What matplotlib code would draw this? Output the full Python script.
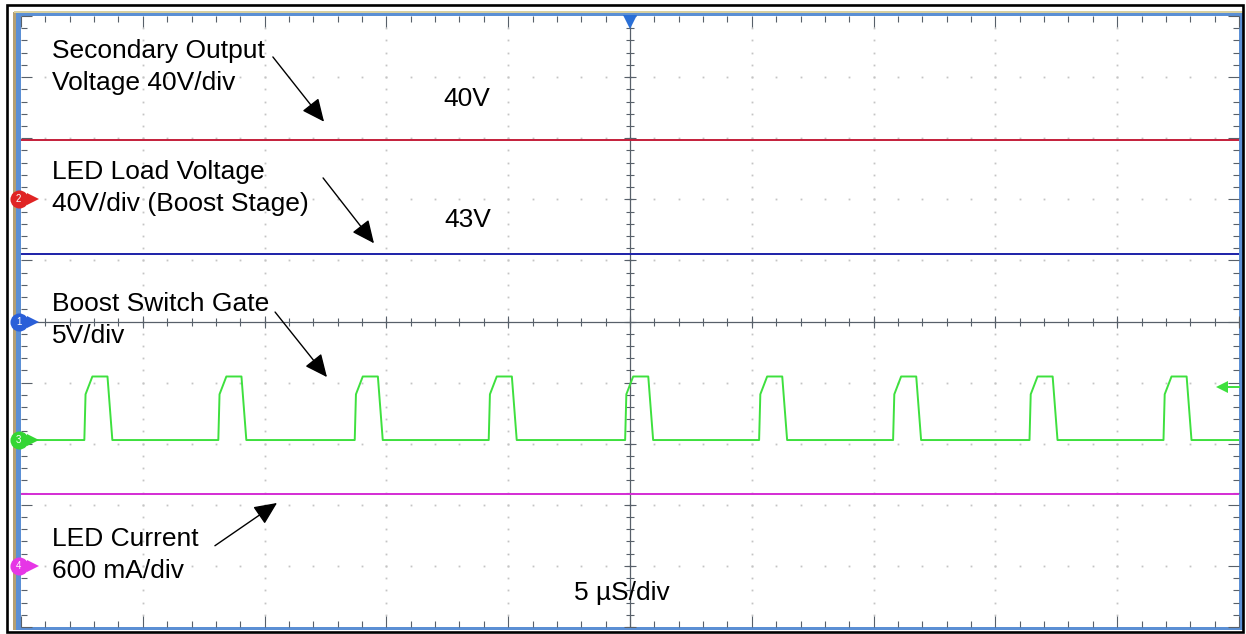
import matplotlib
matplotlib.use("Agg")
import matplotlib.pyplot as plt
import numpy as np
from matplotlib.patches import Rectangle

# scope screen: 10 x 10 divisions, 5 us/div
TIME_SPAN = (-25.0, 25.0)
DIV_SPAN = (-5.0, 5.0)

# channel setup (ground marker position in div from screen centre)
ch_numbers = ["1", "2", "3", "4"]
ch_colors = ["#1c20a8", "#c41e3a", "#3ee03e", "#d42cd4"]
ch_marker_colors = ["#2a5fd8", "#e02424", "#34d634", "#e636e6"]
ch_scale = [40.0, 40.0, 5.0, 0.6]        # V/div, V/div, V/div, A/div
ch_offset = [0.0, 2.0, -1.94, -4.0]     # div

# measured levels
led_load_voltage = 44.0     # CH1, V
secondary_voltage = 38.5    # CH2, V
led_current = 0.71          # CH4, A

# boost switch gate (CH3)
gate_low = 0.0
gate_high = 5.2
pulse_starts = [-22.4, -16.9, -11.3, -5.8, -0.2, 5.3, 10.8, 16.4, 21.9]  # us
pulse_rise = 0.33
pulse_flat = 0.62
pulse_fall = 0.2

trigger_level = 4.35   # V on CH3
trigger_time = 0.0

W, H = 1246, 634
FONT = ["Liberation Sans", "DejaVu Sans"]
TICK_COLOR = "#58606a"
FRAME_BLUE = "#5b8fd4"


def to_div(value, ch):
    return ch_offset[ch] + value / ch_scale[ch]


def px_rect(x0, y0, x1, y1, **kw):
    return Rectangle((x0 / W, 1 - y1 / H), (x1 - x0) / W, (y1 - y0) / H,
                     transform=fig.transFigure, **kw)


fig = plt.figure(figsize=(W / 100, H / 100), dpi=100)
fig.patch.set_facecolor("white")

# scope frame
fig.add_artist(px_rect(14, 12, 1243, 630, facecolor=FRAME_BLUE, edgecolor="none", zorder=-2))
fig.add_artist(px_rect(13, 12, 16, 630, facecolor="#b59f72", edgecolor="none", zorder=-1))
fig.add_artist(px_rect(14, 11, 1243, 13, facecolor="#d8d0a0", edgecolor="none", zorder=-1))
fig.add_artist(px_rect(7, 5, 1243, 632, facecolor="none", edgecolor="black", lw=1.9, zorder=10))

ax = fig.add_axes([21 / W, 1 - 627 / H, 1218 / W, 611 / H])
ax.set_xlim(*TIME_SPAN)
ax.set_ylim(*DIV_SPAN)
ax.set_facecolor("white")
for s in ax.spines.values():
    s.set_visible(False)

x_major = np.arange(-25, 25.1, 5)
x_minor = np.arange(-25, 25.01, 1)
y_major = np.arange(-5, 5.1, 1)
y_minor = np.arange(-5, 5.01, 0.2)
ax.set_xticks(x_major)
ax.set_xticks(x_minor, minor=True)
ax.set_yticks(y_major)
ax.set_yticks(y_minor, minor=True)
ax.tick_params(which="both", direction="in", top=True, right=True,
               labelbottom=False, labelleft=False, color=TICK_COLOR, width=0.8)
ax.tick_params(which="major", length=8)
ax.tick_params(which="minor", length=4.3)

# dotted graticule
for y in y_major[1:-1]:
    if y != 0:
        ax.plot(x_minor[1:-1], np.full(len(x_minor) - 2, y), ls="none", marker="s",
                ms=1.3, mew=0, color="#c4c4c4", zorder=1)
for x in x_major[1:-1]:
    if x != 0:
        ax.plot(np.full(len(y_minor) - 2, x), y_minor[1:-1], ls="none", marker="s",
                ms=1.3, mew=0, color="#c4c4c4", zorder=1)

# centre cross with ticks
ax.axhline(0, color=TICK_COLOR, lw=0.9, zorder=1)
ax.axvline(0, color=TICK_COLOR, lw=0.9, zorder=1)
ax.plot(x_minor, np.zeros_like(x_minor), ls="none", marker="|", ms=6, mew=0.8, color=TICK_COLOR, zorder=1)
ax.plot(x_major, np.zeros_like(x_major), ls="none", marker="|", ms=9, mew=0.8, color=TICK_COLOR, zorder=1)
ax.plot(np.zeros_like(y_minor), y_minor, ls="none", marker="_", ms=6, mew=0.8, color=TICK_COLOR, zorder=1)
ax.plot(np.zeros_like(y_major), y_major, ls="none", marker="_", ms=9, mew=0.8, color=TICK_COLOR, zorder=1)

# traces
ax.plot(TIME_SPAN, [to_div(secondary_voltage, 1)] * 2, color=ch_colors[1], lw=1.4, zorder=3)
ax.plot(TIME_SPAN, [to_div(led_load_voltage, 0)] * 2, color=ch_colors[0], lw=1.4, zorder=3)
ax.plot(TIME_SPAN, [to_div(led_current, 3)] * 2, color=ch_colors[3], lw=1.4, zorder=3)

gate_t = [TIME_SPAN[0]]
gate_v = [gate_low]
for t0 in pulse_starts:
    t_top = t0 + pulse_rise
    t_end = t_top + pulse_flat
    gate_t += [t0, t0 + 0.05, t_top, t_end, t_end + pulse_fall]
    gate_v += [gate_low, gate_low + 0.72 * (gate_high - gate_low), gate_high, gate_high, gate_low]
gate_t.append(TIME_SPAN[1])
gate_v.append(gate_low)
ax.plot(gate_t, [to_div(v, 2) for v in gate_v], color=ch_colors[2], lw=1.4, zorder=3)

# channel ground markers on the left
x_circle = TIME_SPAN[0] - 0.1
for num, col, off in zip(ch_numbers, ch_marker_colors, ch_offset):
    ax.plot([x_circle, TIME_SPAN[0] + 0.5], [off, off], color=col, lw=2.0,
            clip_on=False, zorder=6)
    ax.plot(TIME_SPAN[0] + 0.5, off, marker=">", ms=8, mew=0, color=col,
            clip_on=False, zorder=6)
    ax.plot(x_circle, off, marker="o", ms=13, mew=0, color=col, clip_on=False, zorder=6)
    ax.text(x_circle, off, num, color="white", fontsize=7, ha="center", va="center",
            family=FONT, zorder=7, clip_on=False)

# trigger markers
ax.plot(trigger_time, 4.9, marker="v", ms=10, mew=0, color="#2a6fd6", clip_on=False, zorder=6)
trig_y = to_div(trigger_level, 2)
ax.plot([24.3, 25.0], [trig_y, trig_y], color=ch_colors[2], lw=1.4, clip_on=False, zorder=6)
ax.plot(24.3, trig_y, marker="<", ms=9, mew=0, color=ch_colors[2], clip_on=False, zorder=6)

# annotations
text_kw = dict(fontsize=19, family=FONT, color="black", ha="left", va="baseline", zorder=8)
ax.text(-23.73, 4.31, "Secondary Output", **text_kw)
ax.text(-23.73, 3.79, "Voltage 40V/div", **text_kw)
ax.text(-23.73, 2.33, "LED Load Voltage", **text_kw)
ax.text(-23.73, 1.81, "40V/div (Boost Stage)", **text_kw)
ax.text(-23.73, 0.17, "Boost Switch Gate", **text_kw)
ax.text(-23.73, -0.35, "5V/div", **text_kw)
ax.text(-23.73, -3.67, "LED Current", **text_kw)
ax.text(-23.73, -4.20, "600 mA/div", **text_kw)
ax.text(-7.68, 3.53, "40V", **text_kw)
ax.text(-7.64, 1.55, "43V", **text_kw)
ax.text(-2.30, -4.56, "5 \u00b5S/div", **text_kw)

arrow_kw = dict(arrowstyle="-|>,head_length=0.7,head_width=0.32", color="black",
                lw=1.0, shrinkA=0, shrinkB=0, mutation_scale=20)
arrows = [((-14.66, 4.33), (-12.56, 3.27)),
          ((-12.60, 2.35), (-10.51, 1.28)),
          ((-14.57, 0.155), (-12.44, -0.91)),
          ((-17.04, -3.67), (-14.49, -2.97))]
for tail, tip in arrows:
    ax.annotate("", xy=tip, xytext=tail, arrowprops=arrow_kw, zorder=8)

fig.savefig("out.png", dpi=100)
